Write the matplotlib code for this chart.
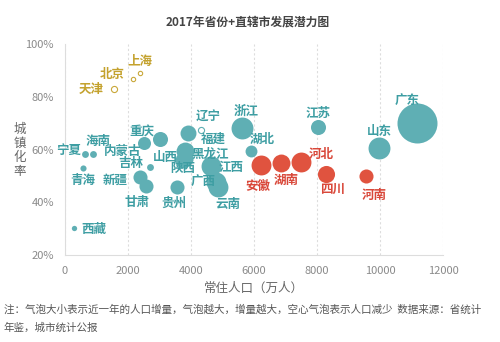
import matplotlib
matplotlib.use("Agg")
import matplotlib.pyplot as plt

plt.rcParams['font.family'] = ['Noto Sans CJK SC', 'DejaVu Sans']

# provinces: population (万人), urbanization rate (%), population change (bubble), group
names = ["北京", "上海", "天津", "辽宁", "浙江", "江苏", "广东", "山东", "湖北",
         "河北", "湖南", "安徽", "四川", "河南", "福建", "黑龙江", "山西", "陕西",
         "江西", "广西", "云南", "贵州", "甘肃", "新疆", "吉林", "内蒙古", "重庆",
         "宁夏", "海南", "青海", "西藏"]
population = [2155, 2390, 1540, 4330, 5630, 8020, 11180, 9970, 5890,
              7485, 6850, 6210, 8300, 9555, 3920, 3820, 3760, 3840,
              4640, 4780, 4870, 3560, 2580, 2390, 2710, 2515, 3030,
              640, 900, 565, 300]
urban_rate = [86.6, 88.9, 82.8, 67.4, 68.0, 68.6, 70.0, 60.6, 59.5,
              55.4, 54.9, 54.1, 50.7, 50.1, 66.1, 59.4, 56.0, 56.5,
              53.8, 47.8, 45.8, 45.6, 46.2, 49.6, 53.5, 62.5, 63.8,
              58.2, 58.2, 52.9, 30.4]
pop_change = [-2, -2, -4, -4, 51, 24, 170, 51, 15,
              42, 34, 42, 31, 21, 27, 34, 27, 21,
              42, 42, 42, 21, 21, 21, 5, 18, 24,
              5, 5, 4, 3]
group = ["gold", "gold", "gold", "teal", "teal", "teal", "teal", "teal", "teal",
         "red", "red", "red", "red", "red", "teal", "teal", "teal", "teal",
         "teal", "teal", "teal", "teal", "teal", "teal", "teal", "teal", "teal",
         "teal", "teal", "teal", "teal"]

# label offsets in pixels (dx, dy up)
label_off = {
    "北京": (-21, 5), "上海": (0, 12), "天津": (-22, 0), "辽宁": (7, 13),
    "浙江": (4, 17), "江苏": (0, 13), "广东": (-10, 23), "山东": (0, 16),
    "湖北": (12, 11), "河北": (20, 7), "湖南": (5, -17), "安徽": (-3, -21),
    "四川": (6, -15), "河南": (8, -20), "福建": (25, -6), "黑龙江": (25, -3),
    "山西": (-18, 3), "陕西": (-3, -10), "江西": (20, -2), "广西": (-12, 0),
    "云南": (9, -18), "贵州": (-3, -16), "甘肃": (-9, -17), "新疆": (-25, -3),
    "青海": (0, -12), "吉林": (-20, 3), "内蒙古": (-22, -9), "重庆": (-19, 7),
    "海南": (5, 13), "宁夏": (-17, 4), "西藏": (19, -2),
}

fill_col = {"teal": "#5FAFB4", "red": "#E0533F", "gold": "#C9A83A"}
text_col = {"teal": "#3E9EA3", "red": "#D9483A", "gold": "#C4A22E"}

fig = plt.figure(figsize=(5, 3.42), dpi=100)
ax = fig.add_axes([0.13, 0.2544, 0.756, 0.6169])

for i, n in enumerate(names):
    g = group[i]
    s = 4.88 * abs(pop_change[i])
    if pop_change[i] < 0:
        ax.scatter(population[i], urban_rate[i], s=s, facecolor="white",
                   edgecolor=fill_col[g], linewidth=0.8, zorder=3)
    else:
        ax.scatter(population[i], urban_rate[i], s=s, color=fill_col[g],
                   linewidth=0, zorder=2)
    dx, dy = label_off[n]
    ax.annotate(n, (population[i], urban_rate[i]), xytext=(dx * 0.72, dy * 0.72),
                textcoords="offset points", ha="center", va="center",
                fontsize=9, fontweight="bold", color=text_col[g], zorder=4)

ax.set_xlim(0, 12000)
ax.set_ylim(20, 100)
ax.set_xticks(range(0, 12001, 2000))
ax.set_yticks([20, 40, 60, 80, 100])
ax.set_yticklabels(["20%", "40%", "60%", "80%", "100%"])
ax.tick_params(length=0, labelsize=8, labelcolor="#8a8a8a", pad=8)
ax.grid(axis="x", linestyle=(0, (2, 2)), color="#dddddd", linewidth=0.8)
for side in ["top", "right"]:
    ax.spines[side].set_visible(False)
for side in ["left", "bottom"]:
    ax.spines[side].set_color("#dddddd")

ax.set_xlabel("常住人口（万人）", fontsize=9, color="#666666", labelpad=4)
fig.text(0.04, 0.56, "城\n镇\n化\n率", fontsize=9, color="#666666",
         ha="center", va="center", linespacing=1.1)
fig.text(0.496, 0.935, "2017年省份+直辖市发展潜力图", fontsize=8.5,
         fontweight="bold", color="#444444", ha="center", va="center")
fig.text(0.008, 0.095, "注：气泡大小表示近一年的人口增量，气泡越大，增量越大，空心气泡表示人口减少  数据来源：省统计",
         fontsize=7.6, color="#555555", ha="left", va="center")
fig.text(0.008, 0.042, "年鉴，城市统计公报", fontsize=7.6, color="#555555",
         ha="left", va="center")

fig.savefig("out.png", dpi=100, facecolor="white")
